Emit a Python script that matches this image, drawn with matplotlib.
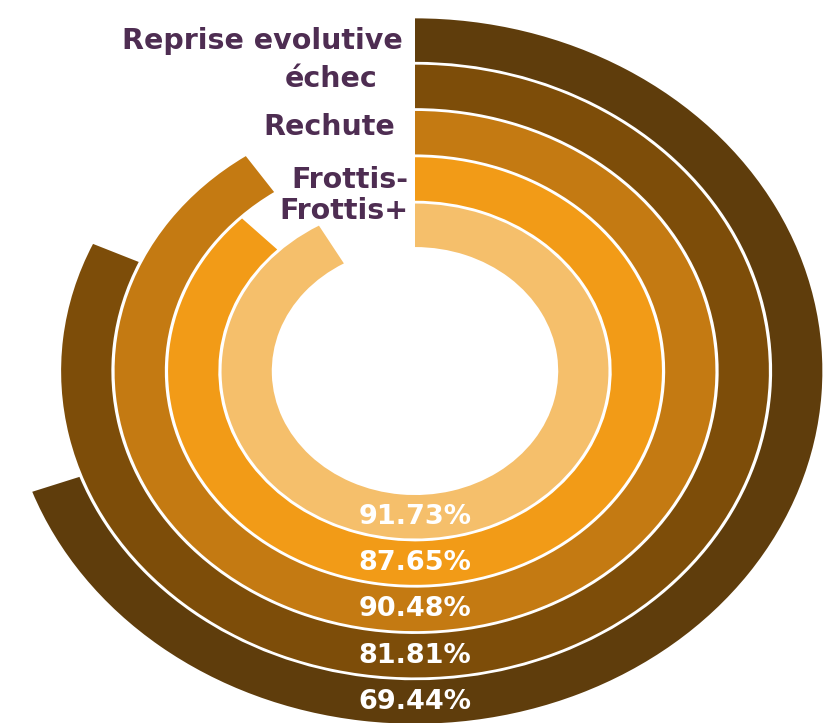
import numpy as np
import matplotlib.pyplot as plt

# rings from the centre outwards
categories = ['Frottis+', 'Frottis-', 'Rechute', 'échec', 'Reprise evolutive']
values = [91.73, 87.65, 90.48, 81.81, 69.44]
colors = ['#F5BF6B', '#F29B17', '#C47A12', '#7D4D09', '#5F3D0C']

W, H = 831, 723
fig = plt.figure(figsize=(W / 100, H / 100), dpi=100)

# polar axes stretched a bit wider than tall
ax = fig.add_axes([0.006, -0.0042, 0.9868, 0.982], projection='polar')
ax.set_aspect('auto')
ax.set_theta_zero_location('N')
ax.set_theta_direction(-1)
ax.set_ylim(0, 355)
ax.axis('off')

inner = 124
pitch = 46.3
thick = 43.5

for i, (v, c) in enumerate(zip(values, colors)):
    r0 = inner + i * pitch
    ax.bar(0, thick, width=v / 100 * 2 * np.pi, bottom=r0, align='edge',
           color=c, edgecolor='none')
    ax.text(np.pi, r0 + thick / 2, f'{v:.2f}%', ha='center', va='center',
            color='white', fontsize=19.5, fontweight='bold')

# category names stacked to the left of the ring starts
label_y = [211, 180, 127, 79, 41]
label_x = [408, 408, 395, 378, 403]
for name, x, y in zip(categories, label_x, label_y):
    fig.text(x / W, 1 - y / H, name, ha='right', va='center',
             color='#4E2D52', fontsize=20.5, fontweight='bold')

fig.savefig('out.png', dpi=100)
